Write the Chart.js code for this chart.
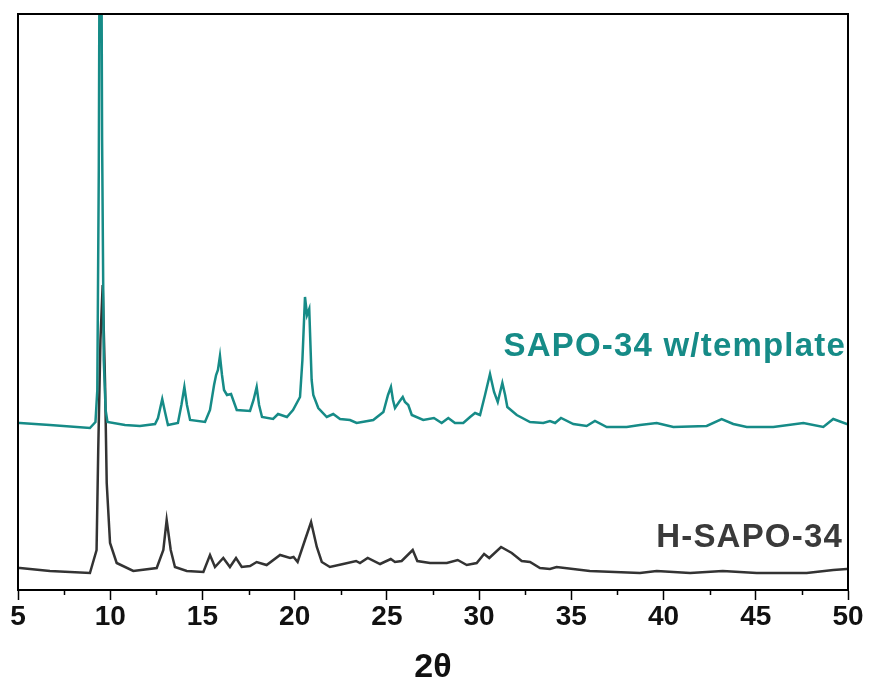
<!DOCTYPE html>
<html>
<head>
<meta charset="utf-8">
<script src="https://cdn.jsdelivr.net/npm/chart.js@4.4.1/dist/chart.umd.min.js"></script>
<style>
html,body{margin:0;padding:0;background:#fff;}
#wrap{width:870px;height:693px;position:relative;}
</style>
</head>
<body>
<div id="wrap"><canvas id="c" width="870" height="693"></canvas></div>
<script>
// 2θ values and intensities (a.u.)
const tplTheta = [5.00,5.11,6.73,8.90,9.20,9.30,9.38,9.47,9.56,9.65,9.75,9.85,10.80,11.61,12.43,12.59,12.82,12.97,13.13,13.67,13.86,14.02,14.16,14.33,15.14,15.41,15.63,15.74,15.84,15.95,16.06,16.17,16.33,16.55,16.86,17.58,17.77,17.94,18.07,18.23,18.83,19.10,19.58,19.91,20.29,20.42,20.56,20.67,20.79,20.92,21.01,21.28,21.74,22.09,22.46,23.00,23.36,24.26,24.81,25.06,25.22,25.33,25.44,25.66,25.86,25.98,26.16,26.35,26.97,27.55,27.97,28.33,28.69,29.14,29.51,29.78,30.05,30.32,30.59,30.81,31.01,31.26,31.41,31.53,32.04,32.76,33.48,33.84,34.12,34.44,35.11,35.83,36.28,36.92,38.00,38.72,39.63,40.53,42.34,43.15,43.78,44.51,45.95,47.58,48.66,49.20,49.93,50.00];
const tplIntensity = [167,167,165,162,168,200,420,900,450,230,180,168,165,164,166,172,191,178,165,167,185,203,185,170,168,180,205,215,220,234,215,200,195,196,180,179,190,203,185,173,171,176,173,180,193,230,293,275,281,210,195,182,173,176,171,170,167,170,178,195,203,190,182,188,193,188,185,175,170,172,167,172,167,167,173,177,175,195,216,198,188,207,195,183,175,168,167,169,167,172,166,164,169,163,163,165,167,163,164,171,166,163,163,167,163,171,166,166];

const hTheta = [5.00,5.11,6.73,8.90,9.26,9.35,9.47,9.59,9.72,9.81,9.99,10.35,11.25,12.52,12.88,13.06,13.28,13.51,14.15,15.05,15.41,15.68,16.13,16.49,16.82,17.13,17.58,17.94,18.48,19.21,19.75,19.94,20.16,20.56,20.89,21.20,21.47,21.91,22.63,23.33,23.54,23.96,24.63,25.21,25.44,25.80,26.40,26.65,27.34,28.25,28.84,29.33,29.87,30.27,30.55,31.19,31.77,32.31,32.76,33.30,33.84,34.20,36.00,38.72,39.63,41.44,43.21,45.05,47.76,49.20,49.93,50.00];
const hIntensity = [22,22,19,17,40,140,250,305,207,107,47,27,19,22,40,70,40,23,19,18,35,23,32,23,32,23,24,28,25,35,32,33,28,50,68,43,28,23,26,29,27,32,26,31,28,29,40,29,27,27,30,25,27,36,32,43,37,29,28,22,21,23,19,17,19,17,19,17,17,20,21,21];

const xTicks = [5,10,15,20,25,30,35,40,45,50];
const xMinorTicks = [7.5,12.5,17.5,22.5,27.5,32.5,37.5,42.5,47.5];
const seriesNames = ['SAPO-34 w/template','H-SAPO-34'];
const seriesColors = ['#168b87','#333333'];
const axisTitle = '2\u03B8';

function toPoints(xs, ys){ return xs.map((x,i)=>({x:x, y:ys[i]})); }

const boxPlugin = {
  id:'box',
  afterDraw(chart){
    const {ctx, chartArea:a, scales} = chart;
    ctx.save();
    ctx.strokeStyle = '#000';
    ctx.lineWidth = 2;
    ctx.strokeRect(a.left, a.top, a.right-a.left, a.bottom-a.top);
    // minor ticks
    ctx.lineWidth = 1.5;
    ctx.beginPath();
    xMinorTicks.forEach(v=>{
      const px = Math.round(scales.x.getPixelForValue(v))+0.5;
      ctx.moveTo(px, a.bottom);
      ctx.lineTo(px, a.bottom+5);
    });
    ctx.stroke();
    // series labels
    ctx.textAlign = 'right';
    ctx.textBaseline = 'alphabetic';
    ctx.font = 'bold 33px "Liberation Sans", Arial, sans-serif';
    if ('letterSpacing' in ctx) ctx.letterSpacing = '1.2px';
    ctx.fillStyle = seriesColors[0];
    ctx.fillText(seriesNames[0], 846, 356);
    ctx.fillStyle = '#3a3a3a';
    ctx.fillText(seriesNames[1], 843, 547);
    ctx.restore();
  }
};

new Chart(document.getElementById('c'), {
  type:'line',
  data:{
    datasets:[
      {label:seriesNames[0], data:toPoints(tplTheta,tplIntensity), borderColor:seriesColors[0], borderWidth:2.5, pointRadius:0, tension:0, fill:false},
      {label:seriesNames[1], data:toPoints(hTheta,hIntensity), borderColor:seriesColors[1], borderWidth:2.5, pointRadius:0, tension:0, fill:false}
    ]
  },
  options:{
    responsive:false,
    animation:false,
    layout:{padding:{top:14,left:18,right:22,bottom:0}},
    plugins:{legend:{display:false}, tooltip:{enabled:false}},
    scales:{
      x:{
        type:'linear', min:5, max:50,
        afterBuildTicks(s){ s.ticks = xTicks.map(v=>({value:v})); },
        afterFit(s){ s.height = 103; },
        grid:{drawOnChartArea:false, drawTicks:true, tickLength:10, tickColor:'#000', tickWidth:1.5},
        border:{display:true, color:'#000', width:2},
        ticks:{color:'#111', padding:0, maxRotation:0, autoSkip:false, font:{family:'"Liberation Sans", Arial, sans-serif', size:28, weight:'bold'}},
        title:{display:true, text:axisTitle, color:'#111', padding:{top:0,bottom:5}, font:{family:'"Liberation Sans", Arial, sans-serif', size:34, weight:'bold'}}
      },
      y:{display:false, min:0, max:576}
    }
  },
  plugins:[boxPlugin]
});
</script>
</body>
</html>
